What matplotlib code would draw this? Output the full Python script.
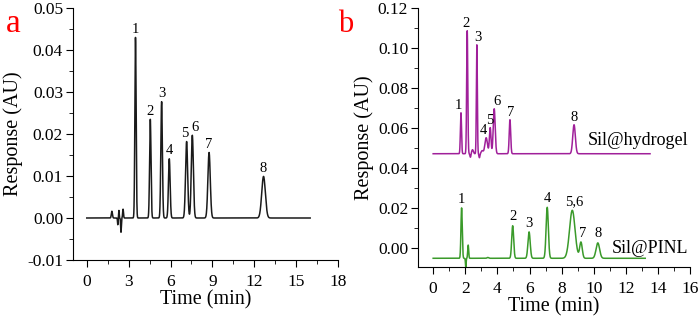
import numpy as np
import matplotlib
matplotlib.use("Agg")
import matplotlib.pyplot as plt
from matplotlib.ticker import MultipleLocator

plt.rcParams['font.family'] = ['Liberation Serif', 'DejaVu Serif']

# ---- panel a: peak table (time min, height AU, width sigma min)
a_labels = ['1', '2', '3', '4', '5', '6', '7', '8']
a_times = [3.49, 4.55, 5.36, 5.91, 7.15, 7.56, 8.76, 12.66]
a_heights = [0.0430, 0.0235, 0.0277, 0.0141, 0.0182, 0.0197, 0.0156, 0.0099]
a_sigmas = [0.045, 0.05, 0.055, 0.06, 0.075, 0.075, 0.085, 0.13]
# solvent front disturbance
a_noise_times = [1.80, 2.22, 2.30, 2.45, 2.60]
a_noise_heights = [0.0016, -0.0016, 0.0018, -0.0034, 0.0021]
a_noise_sigmas = [0.04, 0.02, 0.02, 0.025, 0.03]
a_range = (0.0, 16.0)

# ---- panel b: Sil@hydrogel
h_labels = ['1', '2', '3', '4', '5', '6', '7', '8']
h_times = [1.73, 2.12, 2.72, 3.30, 3.55, 3.80, 4.78, 8.77]
h_heights = [0.0205, 0.0615, 0.0545, 0.0080, 0.0130, 0.0225, 0.0170, 0.0145]
h_sigmas = [0.035, 0.035, 0.03, 0.08, 0.05, 0.06, 0.045, 0.08]
h_noise_times = [2.32, 2.45, 2.88, 3.05]
h_noise_heights = [-0.0018, 0.0020, -0.0020, 0.0015]
h_noise_sigmas = [0.03, 0.05, 0.03, 0.06]
h_base = 0.0471
h_range = (0.0, 13.5)

# ---- panel b: Sil@PINL
p_labels = ['1', '2', '3', '4', '5,6', '7', '8']
p_times = [1.77, 4.95, 5.97, 7.10, 8.66, 9.20, 10.25]
p_heights = [0.0252, 0.0163, 0.0132, 0.0255, 0.0240, 0.0080, 0.0077]
p_sigmas = [0.04, 0.06, 0.07, 0.07, 0.17, 0.08, 0.11]
p_noise_times = [2.03, 2.18, 3.40]
p_noise_heights = [-0.0048, 0.0066, 0.0004]
p_noise_sigmas = [0.02, 0.03, 0.05]
p_base = -0.0052
p_range = (0.0, 13.2)


def trace(rng, times, heights, sigmas, base=0.0):
    t = np.linspace(rng[0], rng[1], 4000)
    y = np.full_like(t, base)
    for t0, h, s in zip(times, heights, sigmas):
        y += h * np.exp(-0.5 * ((t - t0) / s) ** 2)
    return t, y


def style_axes(ax):
    for s in ['top', 'right']:
        ax.spines[s].set_visible(False)
    ax.tick_params(which='both', direction='out', labelsize=12.5, pad=2)
    ax.tick_params(axis='x', which='both', pad=5)
    ax.tick_params(which='major', length=5)
    ax.tick_params(which='minor', length=3)


fig = plt.figure(figsize=(7, 3.2), dpi=100)

# ---------------- panel a
ax1 = fig.add_axes([0.104, 0.1875, 0.379, 0.7875])
t, y = trace(a_range, a_times + a_noise_times, a_heights + a_noise_heights,
             a_sigmas + a_noise_sigmas)
ax1.plot(t, y, color='#1a1a1a', lw=1.1)
a_dx = [0, 0, 0, 0, -0.15, 0.2, 0, 0]
for lab, t0, dx in zip(a_labels, a_times, a_dx):
    yi = np.interp(t0, t, y)
    ax1.text(t0 + dx, yi + 0.0004, lab, ha='center', va='bottom', fontsize=10.5)
ax1.set_xlim(-1, 18)
ax1.set_ylim(-0.01, 0.05)
ax1.xaxis.set_minor_locator(MultipleLocator(1.5))
ax1.yaxis.set_minor_locator(MultipleLocator(0.005))
ax1.set_xticks(np.arange(0, 19, 3))
ax1.set_yticks(np.arange(-0.01, 0.051, 0.01))
ax1.set_yticklabels(['%.2f' % v if abs(v) > 1e-9 else '0.00' for v in ax1.get_yticks()])
ax1.set_xlabel('Time (min)', fontsize=14.5, labelpad=0)
ax1.set_ylabel('Response (AU)', fontsize=14.5, labelpad=3)
style_axes(ax1)
fig.text(0.008, 0.925, 'a', color='red', fontsize=24, ha='left', va='center')

# ---------------- panel b
ax2 = fig.add_axes([0.597, 0.166, 0.389, 0.809])
t, y = trace(h_range, h_times + h_noise_times, h_heights + h_noise_heights,
             h_sigmas + h_noise_sigmas, h_base)
ax2.plot(t, y, color='#a0209a', lw=1.1)
h_dx = [-0.15, -0.05, 0.05, -0.2, 0.0, 0.15, 0.05, 0]
for lab, t0, dx in zip(h_labels, h_times, h_dx):
    yi = np.interp(t0, t, y)
    ax2.text(t0 + dx, yi + 0.0005, lab, ha='center', va='bottom', fontsize=10.5)
ax2.text(9.6, 0.0495, 'Sil@hydrogel', fontsize=13, ha='left', va='bottom')

t, y = trace(p_range, p_times + p_noise_times, p_heights + p_noise_heights,
             p_sigmas + p_noise_sigmas, p_base)
ax2.plot(t, y, color='#3a9a2a', lw=1.1)
p_dx = [0, 0, 0, 0, 0.1, 0.1, 0.0]
for lab, t0, dx in zip(p_labels, p_times, p_dx):
    yi = np.interp(t0, t, y)
    ax2.text(t0 + dx, yi + 0.0012, lab, ha='center', va='bottom', fontsize=10.5)
ax2.text(11.1, -0.0045, 'Sil@PINL', fontsize=13, ha='left', va='bottom')

ax2.set_xlim(-0.95, 16)
ax2.set_ylim(-0.0095, 0.12)
ax2.set_xticks(np.arange(0, 17, 2))
ax2.xaxis.set_minor_locator(MultipleLocator(1))
ax2.set_yticks(np.arange(0, 0.121, 0.02))
ax2.yaxis.set_minor_locator(MultipleLocator(0.01))
ax2.set_yticklabels(['%.2f' % v for v in ax2.get_yticks()])
ax2.set_xlabel('Time (min)', fontsize=14.5, labelpad=0)
ax2.set_ylabel('Response (AU)', fontsize=14.5, labelpad=3)
style_axes(ax2)
fig.text(0.483, 0.925, 'b', color='red', fontsize=22, ha='left', va='center')

fig.savefig('out.png', dpi=100)
